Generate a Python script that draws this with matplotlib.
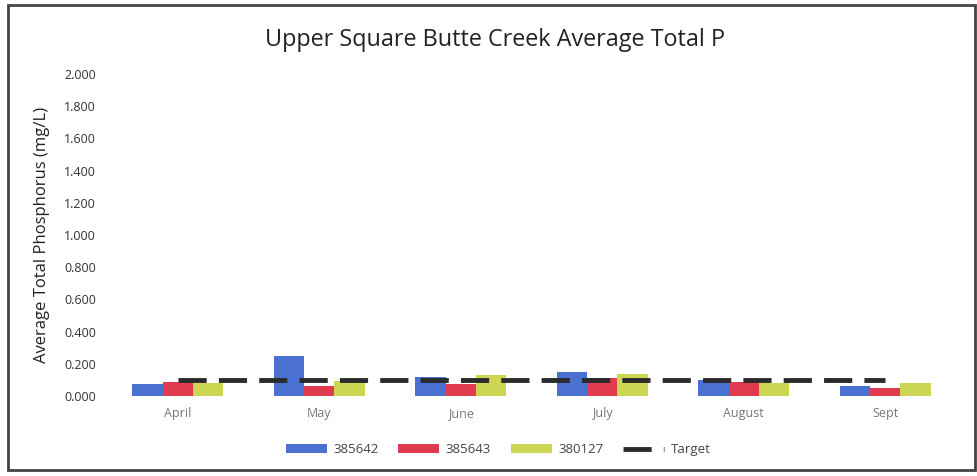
import matplotlib.pyplot as plt
import numpy as np
from matplotlib.patches import Rectangle

months = ["April", "May", "June", "July", "August", "Sept"]
site_385642 = [0.076, 0.250, 0.118, 0.150, 0.100, 0.062]
site_385643 = [0.089, 0.062, 0.073, 0.115, 0.089, 0.048]
site_380127 = [0.083, 0.095, 0.132, 0.138, 0.079, 0.083]
target = [0.1, 0.1, 0.1, 0.1, 0.1, 0.1]
y_ticks = [0.0, 0.2, 0.4, 0.6, 0.8, 1.0, 1.2, 1.4, 1.6, 1.8, 2.0]

c_blue = "#4a70d2"
c_red = "#e03a4e"
c_yellow = "#ccd653"

plt.rcParams["font.family"] = ["Open Sans", "DejaVu Sans"]

fig = plt.figure(figsize=(9.77, 4.76), dpi=100)
ax = fig.add_axes([0.1095, 0.168, 0.869, 0.6765])

x = np.arange(len(months))
w = 0.215
b1 = ax.bar(x - w, site_385642, w, color=c_blue, label="385642", zorder=2)
b2 = ax.bar(x, site_385643, w, color=c_red, label="385643", zorder=2)
b3 = ax.bar(x + w, site_380127, w, color=c_yellow, label="380127", zorder=2)
ln, = ax.plot(x, target, color="#2b2b2b", linewidth=3.5, linestyle=(0, (5.8, 2.5)),
              label="Target", zorder=3)

ax.set_xlim(-0.5, len(months) - 0.5)
ax.set_ylim(0, 2.0)
ax.set_yticks(y_ticks)
ax.set_yticklabels([f"{v:.3f}" for v in y_ticks], fontsize=9, color="#333333")
ax.set_xticks(x)
ax.set_xticklabels(months, fontsize=9, color="#777777")
ax.tick_params(length=0, pad=8)
for s in ax.spines.values():
    s.set_visible(False)
ax.set_ylabel("Average Total Phosphorus (mg/L)", fontsize=12, color="#222222", labelpad=10)

fig.text(0.507, 0.915, "Upper Square Butte Creek Average Total P", ha="center", va="center",
         fontsize=16.8, color="#222222")

fig.legend(handles=[b1, b2, b3, ln], loc="center", bbox_to_anchor=(0.51, 0.055), ncol=4,
           frameon=False, fontsize=9.5, handlelength=3.1, handleheight=0.6,
           columnspacing=1.5, handletextpad=0.5, labelcolor="#444444")

fig.add_artist(Rectangle((0.008, 0.012), 0.99, 0.978, transform=fig.transFigure,
                         fill=False, edgecolor="#444444", linewidth=2))

fig.savefig("out.png", dpi=100)
